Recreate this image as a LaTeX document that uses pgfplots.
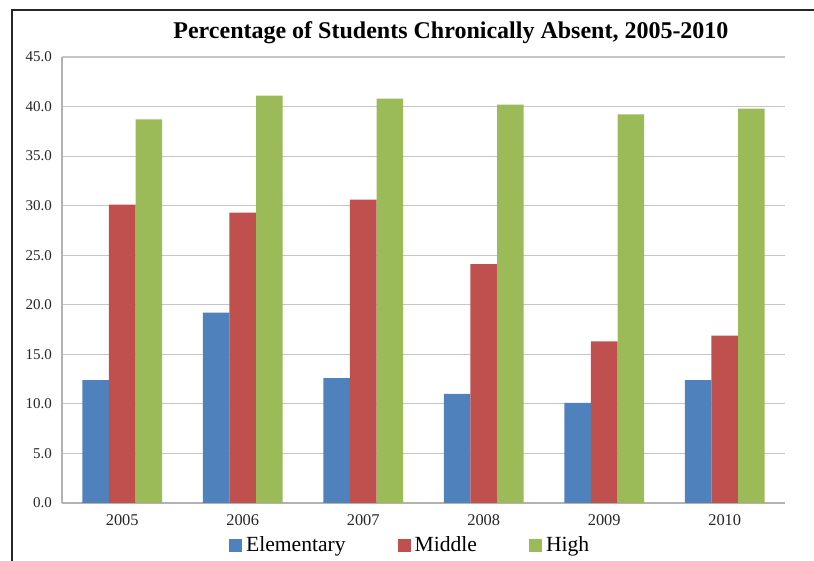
\documentclass[border=0pt]{standalone}
\usepackage{fontspec}
\setmainfont{Liberation Serif}
\usepackage{pgfplots}
\pgfplotsset{compat=1.18}
\definecolor{elem}{HTML}{4F81BD}
\definecolor{midd}{HTML}{C0504D}
\definecolor{high}{HTML}{9BBB59}
\begin{document}
\begin{tikzpicture}
\begin{axis}[
    scale only axis,
    width=361.5pt, height=223pt,
    ybar=0pt, bar width=0.22,
    xmin=-0.5, xmax=5.5,
    ymin=0, ymax=45,
    xtick=data,
    xticklabels={2005,2006,2007,2008,2009,2010},
    ytick={0,5,...,45},
    /pgf/number format/fixed,
    /pgf/number format/fixed zerofill,
    /pgf/number format/precision=1,
    /pgf/number format/assume math mode=true,
    tick label style={color=black!85},
    yticklabel style={font=\fontsize{7.5}{9}\selectfont, xshift=-1.5pt},
    xticklabel style={font=\fontsize{8.2}{10}\selectfont, yshift=-2.5pt},
    major tick length=0pt,
    axis x line*=bottom, axis y line*=left,
    axis line style={draw=gray!60, line width=0.6pt},
    ymajorgrids, grid style={draw=gray!45, line width=0.6pt},
    title={\bfseries Percentage of Students Chronically Absent, 2005-2010},
    title style={font=\fontsize{12}{14}\selectfont, at={(rel axis cs:0.538,1)}, anchor=center, yshift=6pt},
    legend columns=3,
    legend style={draw=none, font=\fontsize{10.8}{12}\selectfont, at={(0.483,0)}, anchor=center, yshift=-21.5pt,
        /tikz/every even column/.append style={column sep=24pt}},
    legend image code/.code={\fill[#1] (0pt,-3pt) rectangle (6.5pt,3.5pt);},
]
\addplot[fill=elem, draw=none] coordinates {(0,12.4) (1,19.2) (2,12.6) (3,11.0) (4,10.1) (5,12.4)};
\addplot[fill=midd, draw=none] coordinates {(0,30.1) (1,29.3) (2,30.6) (3,24.1) (4,16.3) (5,16.9)};
\addplot[fill=high, draw=none] coordinates {(0,38.7) (1,41.1) (2,40.8) (3,40.2) (4,39.2) (5,39.8)};
\legend{Elementary,Middle,High}
\end{axis}
\draw[black!85, line width=0.8pt] (-25pt,-29pt) -- (-25pt,246.5pt) -- (376pt,246.5pt);
\pgfresetboundingbox
\path[use as bounding box] (-31pt,-29pt) rectangle (376pt,251.5pt);
\end{tikzpicture}
\end{document}
